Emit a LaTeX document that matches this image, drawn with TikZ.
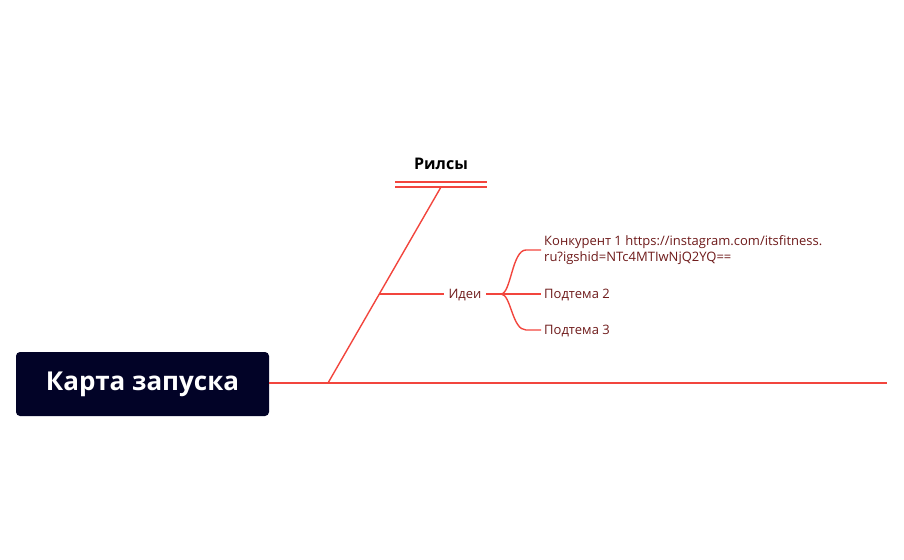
\documentclass[tikz,border=0pt]{standalone}
\usepackage{fontspec}
\setmainfont{Open Sans}
\usetikzlibrary{calc}
\definecolor{spine}{HTML}{F2453D}
\definecolor{rootfill}{HTML}{020327}
\definecolor{leaftext}{HTML}{6E1A1A}
\tikzset{
  bone/.style={draw=spine, line width=1.5pt},
  twig/.style={draw=spine, line width=1.4pt},
  leaf/.style={anchor=west, text=leaftext, inner sep=3pt, align=left, font=\fontsize{13}{16}\selectfont}
}

\begin{document}
\begin{tikzpicture}[x=1pt,y=-1pt]
		\useasboundingbox (0,0) rectangle (904,559);
		%%%%% START %%%%%
		\node[fill=rootfill, rounded corners=4pt, minimum width=253pt, minimum height=64pt, text=white, font=\bfseries\fontsize{26}{30}\selectfont] (root) at (142.5,384) {Карта запуска};
		\coordinate (fork) at (328,383);
		\coordinate (spineend) at (887,383);
		\draw[bone] (root.east |- fork) -- (spineend);
		
		\node[font=\bfseries\fontsize{16}{19}\selectfont] (rilsy) at (441,164) {Рилсы};
		\coordinate (rilsytop) at (441,187);
		\draw[twig] (395,182) -- (487,182);
		\draw[twig] (395,187) -- (487,187);
		\draw[twig] (fork) -- (rilsytop);
		
		\coordinate (ideijoint) at ($(fork)!0.454!(rilsytop)$);
		\node[text=leaftext, inner sep=4.5pt, font=\fontsize{13}{16}\selectfont] (idei) at (465,295) {Идеи};
		\draw[twig] (ideijoint) -- (idei.west |- ideijoint);
		\coordinate (branch) at (501,294);
		\draw[twig] (idei.east |- branch) -- (branch);
		
		\node[leaf] (leaf1) at (541,250) {Конкурент 1 https://instagram.com/itsfitness.\\ru?igshid=NTc4MTIwNjQ2YQ==};
		\node[leaf] (leaf2) at (541,295) {Подтема 2};
		\node[leaf] (leaf3) at (541,331) {Подтема 3};
		\draw[twig] (branch) .. controls (511,294) and (512,250) .. (526,250) -- (leaf1.west |- 0,250);
		\draw[twig] (branch) -- (leaf2.west |- branch);
		\draw[twig] (branch) .. controls (511,294) and (512,330) .. (526,330) -- (leaf3.west |- 0,330);
		%%%%% END %%%%%
	\end{tikzpicture}
\end{document}
